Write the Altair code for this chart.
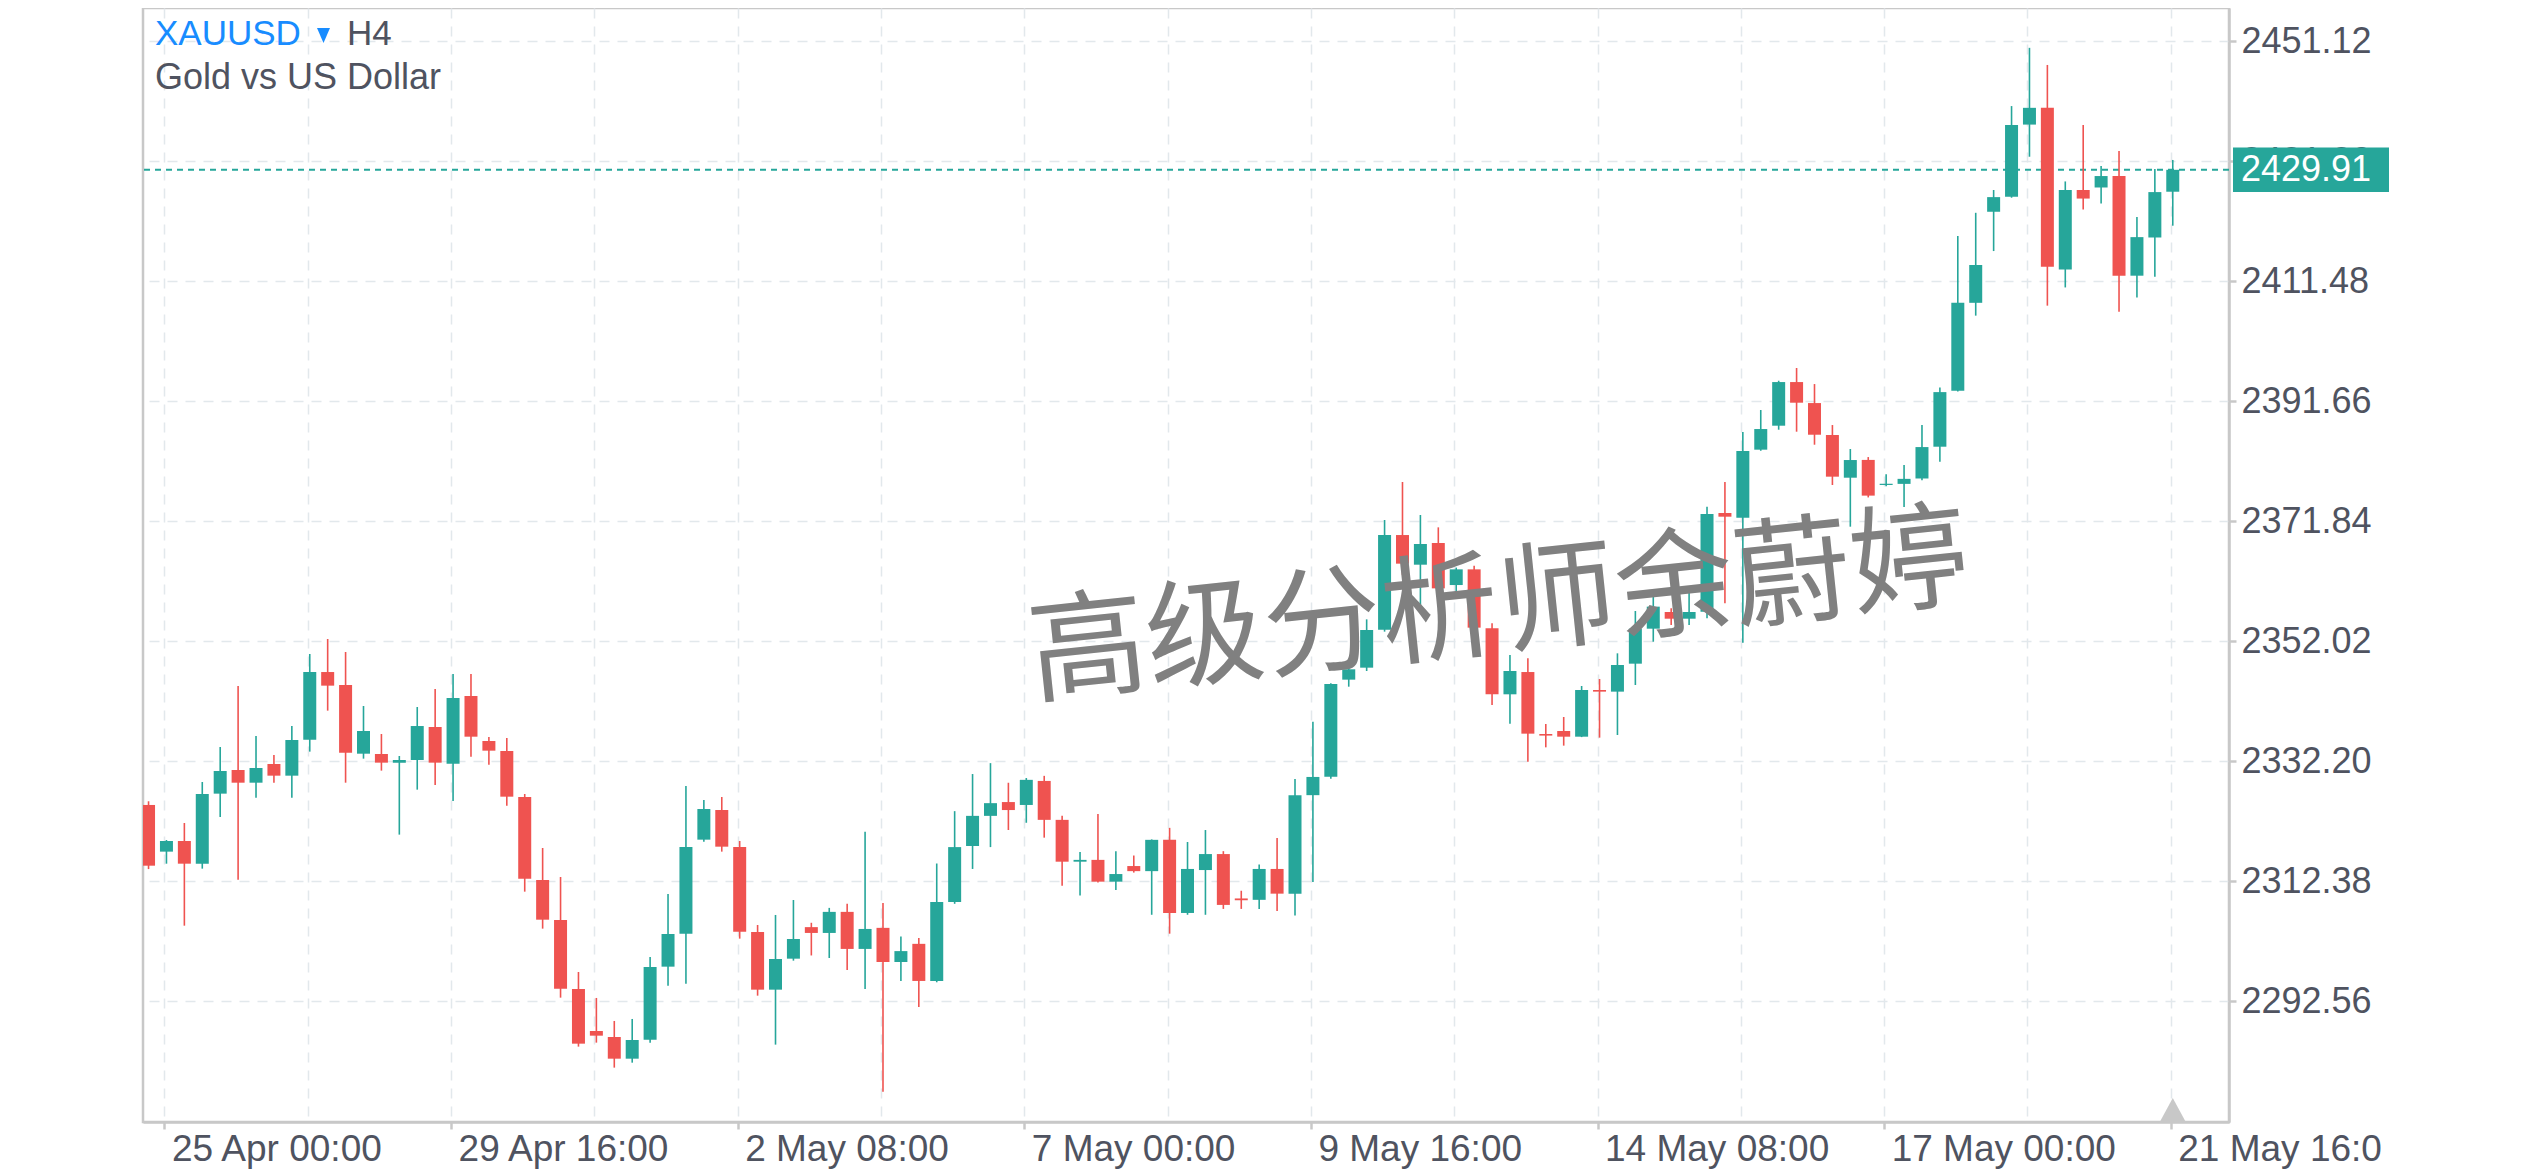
import json
import altair as alt
import pandas as pd

# ---- data (XAUUSD, H4 candles) ----
opens = [2324.99, 2317.28, 2319.04, 2315.29, 2326.86, 2330.77, 2328.67, 2331.76, 2329.83, 2335.78,
         2346.95, 2344.81, 2333.46, 2333.41, 2331.98, 2332.42, 2337.87, 2331.81, 2342.99, 2335.56,
         2333.91, 2326.31, 2312.60, 2305.99, 2294.59, 2287.65, 2286.66, 2283.08, 2286.22, 2298.28,
         2303.73, 2319.26, 2324.16, 2318.05, 2304.01, 2294.48, 2299.60, 2304.81, 2303.85, 2307.33,
         2301.21, 2304.69, 2299.05, 2302.05, 2295.92, 2308.96, 2318.21, 2323.19, 2325.47, 2324.99,
         2328.96, 2322.53, 2315.62, 2315.92, 2312.32, 2314.90, 2314.06, 2319.23, 2307.15, 2314.24,
         2316.88, 2309.55, 2309.32, 2314.42, 2310.34, 2326.61, 2329.67, 2345.69, 2347.67, 2353.95,
         2369.58, 2364.68, 2368.26, 2361.32, 2363.91, 2354.17, 2343.27, 2346.95, 2336.71, 2337.21,
         2336.27, 2343.98, 2343.71, 2348.33, 2354.11, 2356.87, 2355.76, 2356.92, 2373.22, 2372.45,
         2383.68, 2387.64, 2394.85, 2391.38, 2386.10, 2379.05, 2381.99, 2377.85, 2378.03, 2378.92,
         2384.17, 2393.43, 2407.94, 2422.98, 2425.46, 2437.38, 2440.15, 2413.43, 2426.58, 2426.99,
         2428.88, 2412.42, 2418.73, 2426.29]
highs = [2325.60, 2319.20, 2322.01, 2328.78, 2334.57, 2344.64, 2336.38, 2333.25, 2338.03, 2349.93,
         2352.41, 2350.26, 2341.34, 2336.71, 2333.08, 2341.17, 2344.15, 2346.62, 2346.62, 2336.22,
         2336.05, 2326.80, 2317.88, 2313.09, 2297.40, 2293.11, 2289.31, 2289.64, 2299.88, 2310.28,
         2328.12, 2325.81, 2326.31, 2319.04, 2305.16, 2306.82, 2309.29, 2305.53, 2307.99, 2308.66,
         2320.55, 2308.78, 2303.25, 2303.01, 2315.32, 2323.97, 2330.10, 2331.90, 2328.66, 2329.44,
         2329.80, 2323.19, 2317.24, 2323.49, 2317.36, 2316.64, 2319.30, 2321.21, 2318.87, 2320.85,
         2317.36, 2310.82, 2315.14, 2319.53, 2329.26, 2338.75, 2345.10, 2348.20, 2355.65, 2372.06,
         2378.34, 2372.89, 2370.85, 2364.20, 2364.50, 2355.00, 2349.76, 2349.21, 2338.37, 2339.52,
         2344.64, 2345.80, 2350.04, 2357.03, 2359.50, 2357.50, 2360.32, 2374.26, 2378.34, 2386.60,
         2390.23, 2395.07, 2397.17, 2394.52, 2387.75, 2383.79, 2382.46, 2379.63, 2381.16, 2387.77,
         2393.96, 2418.97, 2422.81, 2426.58, 2440.44, 2450.06, 2447.23, 2427.99, 2437.32, 2430.53,
         2433.01, 2422.10, 2430.06, 2431.54]
lows = [2314.40, 2315.29, 2305.05, 2314.47, 2323.00, 2312.65, 2326.20, 2328.67, 2326.20, 2333.80,
        2340.57, 2328.67, 2332.64, 2330.66, 2320.09, 2327.52, 2328.29, 2325.65, 2332.97, 2331.65,
        2324.88, 2310.67, 2304.56, 2293.16, 2285.07, 2285.73, 2281.60, 2282.42, 2285.73, 2295.14,
        2295.47, 2318.93, 2317.28, 2302.91, 2293.49, 2285.40, 2299.27, 2300.13, 2299.71, 2297.72,
        2294.60, 2277.62, 2295.92, 2291.60, 2295.70, 2308.66, 2314.42, 2318.03, 2320.85, 2322.05,
        2319.59, 2311.66, 2310.04, 2312.20, 2310.94, 2313.82, 2306.85, 2303.73, 2306.85, 2306.85,
        2307.82, 2307.82, 2307.82, 2307.46, 2306.73, 2312.26, 2329.34, 2344.53, 2347.12, 2353.62,
        2363.00, 2358.00, 2359.00, 2359.95, 2354.00, 2341.50, 2338.42, 2332.14, 2334.51, 2334.79,
        2336.20, 2336.11, 2336.55, 2344.81, 2351.96, 2354.72, 2354.72, 2355.82, 2358.30, 2351.80,
        2383.50, 2386.98, 2386.65, 2384.50, 2377.84, 2370.96, 2375.79, 2377.62, 2374.20, 2378.62,
        2381.69, 2393.30, 2405.82, 2416.49, 2425.30, 2432.07, 2407.47, 2410.48, 2423.34, 2424.34,
        2406.47, 2408.83, 2412.25, 2420.68]
closes = [2314.96, 2319.04, 2315.29, 2326.80, 2330.60, 2328.67, 2331.10, 2329.83, 2335.72, 2346.95,
          2344.70, 2333.63, 2337.21, 2331.98, 2332.42, 2338.03, 2331.98, 2342.66, 2336.27, 2333.96,
          2326.36, 2312.82, 2306.04, 2294.65, 2285.56, 2286.88, 2283.08, 2286.17, 2298.23, 2303.68,
          2318.05, 2324.32, 2318.10, 2304.06, 2294.48, 2299.55, 2302.85, 2303.85, 2307.33, 2301.21,
          2304.51, 2299.05, 2300.85, 2295.92, 2308.96, 2318.03, 2323.19, 2325.29, 2324.15, 2329.14,
          2322.53, 2315.62, 2315.92, 2312.32, 2313.58, 2314.06, 2319.23, 2307.15, 2314.42, 2316.88,
          2308.48, 2309.25, 2314.42, 2310.34, 2326.61, 2329.62, 2344.97, 2347.40, 2353.89, 2369.58,
          2364.85, 2368.10, 2360.77, 2363.91, 2354.28, 2343.27, 2347.12, 2336.77, 2336.45, 2336.27,
          2343.98, 2343.71, 2348.11, 2354.11, 2357.75, 2355.76, 2356.87, 2373.05, 2372.61, 2383.46,
          2387.09, 2394.85, 2391.44, 2386.15, 2379.22, 2381.97, 2376.09, 2378.05, 2378.86, 2384.11,
          2393.19, 2407.94, 2414.19, 2425.40, 2437.32, 2440.15, 2413.90, 2426.58, 2425.16, 2428.88,
          2412.42, 2418.79, 2426.23, 2429.91]

y_ticks = [2292.56, 2312.38, 2332.20, 2352.02, 2371.84, 2391.66, 2411.48, 2431.30, 2451.12]
x_grid_idx = [1, 9, 17, 25, 33, 41, 49, 57, 65, 73, 81, 89, 97, 105, 113]
x_labels = ["25 Apr 00:00", "29 Apr 16:00", "2 May 08:00", "7 May 00:00",
            "9 May 16:00", "14 May 08:00", "17 May 00:00", "21 May 16:0"]
symbol = "XAUUSD"
interval = "H4"
subtitle = "Gold vs US Dollar"
watermark = "高级分析师余蔚婷"

# ---- styling ----
TEAL = "#26a69a"
RED = "#ef5350"
BLUE = "#188cff"
TXT = "#4f5360"
BORDER = "#c8c8c8"
GRID = "#e2e8ec"
FONT = "Liberation Sans"
W, H = 2086, 1114

n = len(opens)
df = pd.DataFrame({"i": list(range(n)), "o": opens, "h": highs, "l": lows, "c": closes})
price_df = pd.DataFrame({"p": [closes[-1]]})
last_df = pd.DataFrame({"i": [n - 1]})
one = pd.DataFrame({"k": [0]})

x_scale = alt.Scale(domain=[-0.03, 115.86], nice=False, zero=False)
y_scale = alt.Scale(domain=[2272.62, 2456.64], nice=False, zero=False)

label_expr = ("(datum.value - 1) % 16 === 0 ? " + json.dumps(x_labels, ensure_ascii=False)
              + "[(datum.value - 1) / 16] : ''")

x_axis = alt.Axis(values=x_grid_idx, tickOffset=-2, labelExpr=label_expr, labelAlign="left",
                  labelOffset=7, labelBaseline="top", labelPadding=2, labelFontSize=37,
                  labelFont=FONT, labelColor=TXT, labelOverlap=False, labelFlush=False,
                  labelBound=False, labelLimit=600, grid=True, gridColor=GRID, gridDash=[10, 8],
                  gridWidth=1.5, tickColor=BORDER, tickWidth=2.5, tickSize=7,
                  tickOpacity={"condition": {"test": "(datum.value - 1) % 16 === 0", "value": 1},
                               "value": 0},
                  domainColor=BORDER, domainWidth=2.5, title=None, zindex=0)
y_axis = alt.Axis(orient="right", values=y_ticks, format=".2f", labelFontSize=36, labelFont=FONT,
                  labelColor=TXT, labelPadding=5, labelOverlap=False, labelFlush=False,
                  labelLimit=600, grid=True, gridColor=GRID, gridDash=[10, 8], gridWidth=1.5,
                  tickColor=BORDER, tickWidth=2.5, tickSize=7,
                  domainColor=BORDER, domainWidth=2.5, title=None, zindex=0)

X = alt.X("i:Q", scale=x_scale, axis=x_axis)
col = alt.condition("datum.c >= datum.o", alt.value(TEAL), alt.value(RED))

price_line = alt.Chart(price_df).mark_rule(color=TEAL, strokeDash=[6, 5], strokeWidth=2).encode(
    y=alt.Y("p:Q", scale=y_scale, axis=y_axis))

wicks = alt.Chart(df).mark_rule(strokeWidth=1.6, clip=True).encode(
    x=X, y=alt.Y("l:Q", scale=y_scale, axis=y_axis), y2="h:Q", color=col)

bodies = alt.Chart(df).mark_bar(size=13, clip=True).encode(
    x=X, y=alt.Y("o:Q", scale=y_scale, axis=y_axis), y2="c:Q", color=col)

wm = alt.Chart(one).mark_text(text=watermark, font="Noto Sans CJK SC", fontSize=118,
                              color="#808080", angle=354, align="center",
                              baseline="middle").encode(x=alt.value(1356), y=alt.value(602))

t1 = alt.Chart(one).mark_text(text=symbol, font=FONT, fontSize=35, color=BLUE, align="left",
                              baseline="alphabetic").encode(x=alt.value(12), y=alt.value(37))
tri = alt.Chart(one).mark_point(shape="M-1,-1.15L1,-1.15L0,1.15Z", filled=True, size=169,
                                color=BLUE, opacity=1).encode(x=alt.value(180.5), y=alt.value(27.5))
t2 = alt.Chart(one).mark_text(text=interval, font=FONT, fontSize=35, color=TXT, align="left",
                              baseline="alphabetic").encode(x=alt.value(204), y=alt.value(37))
t3 = alt.Chart(one).mark_text(text=subtitle, font=FONT, fontSize=36, color=TXT, align="left",
                              baseline="alphabetic").encode(x=alt.value(12), y=alt.value(81))

last_mark = alt.Chart(last_df).mark_point(shape="M-1,1L1,1L0,-0.85Z", filled=True, size=676,
                                          color=BORDER, opacity=1).encode(
    x=X, y=alt.value(H - 13))

price_box = alt.Chart(price_df).mark_point(shape="M-1,-0.285L1,-0.285L1,0.285L-1,0.285Z",
                                           filled=True, size=24336, color=TEAL, opacity=1).encode(
    x=alt.value(2168), y=alt.Y("p:Q", scale=y_scale, axis=y_axis))
price_txt = alt.Chart(price_df).mark_text(font=FONT, fontSize=36, color="white", align="left",
                                          baseline="middle").encode(
    x=alt.value(2098), y=alt.Y("p:Q", scale=y_scale, axis=y_axis),
    text=alt.Text("p:Q", format=".2f"))

chart = alt.layer(price_line, wicks, bodies, wm, t1, tri, t2, t3, last_mark, price_box,
                  price_txt).properties(
    width=W, height=H, background="white",
    padding={"left": 134, "top": 0, "right": 20, "bottom": 20}
).configure_view(stroke=BORDER, strokeWidth=2.5)

chart.save("out.html", embed_options={"renderer": "svg", "actions": False})
